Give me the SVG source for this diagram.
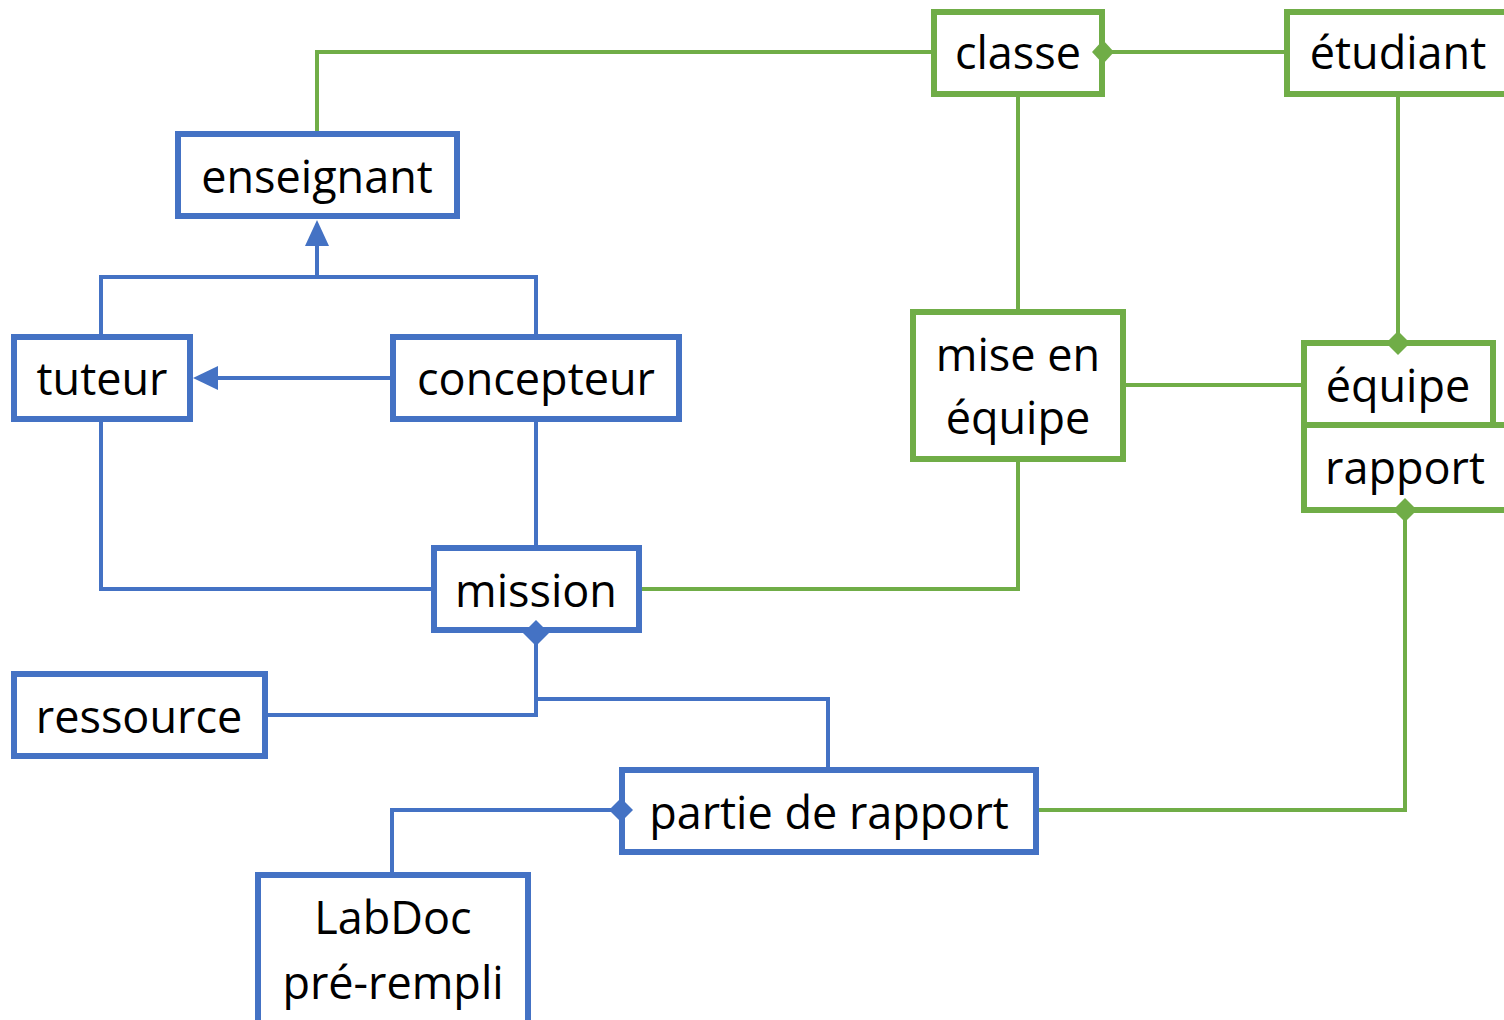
<svg xmlns="http://www.w3.org/2000/svg" width="1504" height="1020" viewBox="0 0 1504 1020">
<style>
.b rect{fill:#fff;stroke:#4472C4;stroke-width:6}
.g rect{fill:#fff;stroke:#70AD47;stroke-width:6}
text{font-family:"Open Sans","Liberation Sans",sans-serif;font-size:45px;fill:#000;text-anchor:middle}
.cb{fill:none;stroke:#4472C4;stroke-width:4}
.cg{fill:none;stroke:#70AD47;stroke-width:4}
.db{fill:#4472C4}
.dg{fill:#70AD47}
</style>
<rect width="1504" height="1020" fill="#fff"/>
<g id="classe" class="g"><rect x="934" y="12" width="168" height="82"/><text x="1018" y="69">classe</text></g>
<g id="etudiant" class="g"><rect x="1287" y="12" width="224" height="82"/><text x="1398" y="69">étudiant</text></g>
<g id="enseignant" class="b"><rect x="178" y="134" width="279" height="82"/><text x="317" y="193">enseignant</text></g>
<g id="tuteur" class="b"><rect x="14" y="337" width="176" height="82"/><text x="102" y="395">tuteur</text></g>
<g id="concepteur" class="b"><rect x="393" y="337" width="286" height="82"/><text x="536" y="395">concepteur</text></g>
<g id="mise-en-equipe" class="g"><rect x="913" y="312" width="210" height="147"/><text x="1018" y="371">mise en</text><text x="1018" y="434">équipe</text></g>
<g id="rapport" class="g"><rect x="1304" y="425" width="210" height="85"/><text x="1405" y="484">rapport</text></g>
<g id="equipe" class="g"><rect x="1304" y="343" width="189" height="82"/><text x="1398" y="402">équipe</text></g>
<g id="mission" class="b"><rect x="434" y="548" width="205" height="82"/><text x="536" y="607">mission</text></g>
<g id="ressource" class="b"><rect x="14" y="674" width="251" height="82"/><text x="139" y="733">ressource</text></g>
<g id="partie-de-rapport" class="b"><rect x="622" y="770" width="414" height="82"/><text x="829" y="829">partie de rapport</text></g>
<g id="labdoc" class="b"><rect x="258" y="875" width="270" height="160"/><text x="393" y="934">LabDoc</text><text x="393" y="999">pré-rempli</text></g>
<g id="connectors">
  <path class="cg" d="M317,131 V52 H932"/>
  <path class="cg" d="M1103,52 H1284"/>
  <path class="cg" d="M1018,97 V309"/>
  <path class="cg" d="M1398,97 V342"/>
  <path class="cg" d="M1126,385 H1301"/>
  <path class="cg" d="M1018,462 V589 H642"/>
  <path class="cg" d="M1405,510 V810 H1039"/>
  <path class="cb" d="M101,334 V277 H536 V334"/>
  <path class="cb" d="M317,277 V240"/>
  <polygon class="db" points="317,220 305,246 329,246"/>
  <path class="cb" d="M390,378 H212"/>
  <polygon class="db" points="193,378 218,366 218,390"/>
  <path class="cb" d="M536,422 V545"/>
  <path class="cb" d="M101,422 V589 H431"/>
  <path class="cb" d="M536,632 V715 H268"/>
  <path class="cb" d="M536,699 H828 V767"/>
  <path class="cb" d="M620,810 H392 V872"/>
  <polygon class="dg" points="1103,40 1114,52 1103,64 1092,52"/>
  <polygon class="dg" points="1398,331 1410,343 1398,355 1386,343"/>
  <polygon class="dg" points="1405,498 1417,510 1405,522 1393,510"/>
  <polygon class="db" points="536,620 549,633 536,646 523,633"/>
  <polygon class="db" points="621,798 633,810 621,822 609,810"/>
</g>
</svg>
